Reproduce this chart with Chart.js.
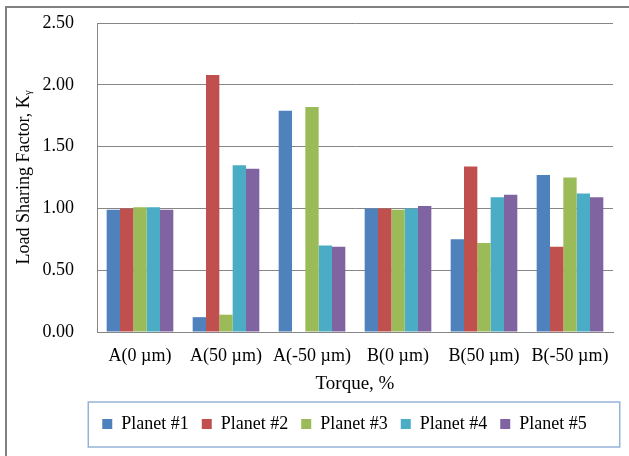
<!DOCTYPE html>
<html>
<head>
<meta charset="utf-8">
<script src="https://cdn.jsdelivr.net/npm/chart.js@4"></script>
<style>
  body { margin: 0; background: #fff; }
  #wrap { position: relative; width: 629px; height: 456px; overflow: hidden; }
  #frame { position: absolute; left: 5px; top: 6px; width: 700px; height: 500px;
           border-left: 2px solid #808080; border-top: 2px solid #808080; pointer-events: none; }
</style>
</head>
<body>
<div id="wrap">
  <canvas id="chart" width="629" height="456"></canvas>
  <div id="frame"></div>
</div>
<script>
const categories = ['A(0 µm)', 'A(50 µm)', 'A(-50 µm)', 'B(0 µm)', 'B(50 µm)', 'B(-50 µm)'];
const planet1 = [0.99, 0.12, 1.79, 1.00, 0.75, 1.27];
const planet2 = [1.00, 2.08, null, 1.00, 1.34, 0.69];
const planet3 = [1.01, 0.14, 1.82, 0.99, 0.72, 1.25];
const planet4 = [1.01, 1.35, 0.70, 1.00, 1.09, 1.12];
const planet5 = [0.99, 1.32, 0.69, 1.02, 1.11, 1.09];
const seriesNames = ['Planet #1', 'Planet #2', 'Planet #3', 'Planet #4', 'Planet #5'];
const seriesColors = ['#4F81BD', '#C0504D', '#9BBB59', '#4BACC6', '#8064A2'];

const serif = '"Liberation Serif", "Times New Roman", serif';
const gridGray = '#868686';

// shift legend to the right like the excel one, and draw its frame
const legendFrame = {
  id: 'legendFrame',
  afterLayout(chart) {
    const lg = chart.legend;
    const dx = 38;
    lg.left += dx;
    lg.right += dx;
    lg.legendHitBoxes.forEach(b => { b.left += dx; });
  },
  afterDraw(chart) {
    const lg = chart.legend;
    const boxes = lg.legendHitBoxes;
    if (!boxes.length) return;
    const first = boxes[0];
    const last = boxes[boxes.length - 1];
    const ctx = chart.ctx;
    ctx.save();
    ctx.strokeStyle = '#95B3D7';
    ctx.lineWidth = 1.5;
    ctx.strokeRect(first.left - 14, lg.top, last.left + last.width + 33 - (first.left - 14), 45);
    ctx.restore();
  }
};

new Chart(document.getElementById('chart'), {
  type: 'bar',
  data: {
    labels: categories,
    datasets: [planet1, planet2, planet3, planet4, planet5].map((vals, i) => ({
      label: seriesNames[i],
      data: vals,
      backgroundColor: seriesColors[i],
      borderWidth: 0,
      barPercentage: 1,
      categoryPercentage: 0.775
    }))
  },
  options: {
    responsive: false,
    animation: false,
    layout: { padding: { left: 0, right: 16, top: 23, bottom: 13 } },
    plugins: {
      tooltip: { enabled: false },
      legend: {
        position: 'bottom',
        labels: {
          color: '#000',
          font: { family: serif, size: 18 },
          boxWidth: 10,
          boxHeight: 10,
          padding: 13
        }
      }
    },
    scales: {
      x: {
        grid: { display: false, drawTicks: false },
        border: { display: true, color: gridGray, width: 1 },
        ticks: { color: '#000', font: { family: serif, size: 18 }, padding: 13, maxRotation: 0, autoSkip: false },
        title: { display: true, text: 'Torque, %', color: '#000', font: { family: serif, size: 19 }, padding: { top: 0, bottom: 7 } },
        afterFit(scale) { scale.height = 70; }
      },
      y: {
        min: 0,
        max: 2.5,
        grid: { color: gridGray, lineWidth: 1, drawTicks: true, tickLength: 20, tickColor: 'rgba(0,0,0,0)' },
        border: { display: true, color: gridGray, width: 1 },
        ticks: {
          stepSize: 0.5,
          color: '#000',
          font: { family: serif, size: 18 },
          padding: 3,
          callback: v => v.toFixed(2)
        },
        title: { display: true, text: 'Load Sharing Factor, Kᵧ', color: '#000', font: { family: serif, size: 18 }, padding: { top: 13, bottom: 0 } },
        afterFit(scale) { scale.width = 97; }
      }
    }
  },
  plugins: [legendFrame]
});
</script>
</body>
</html>
